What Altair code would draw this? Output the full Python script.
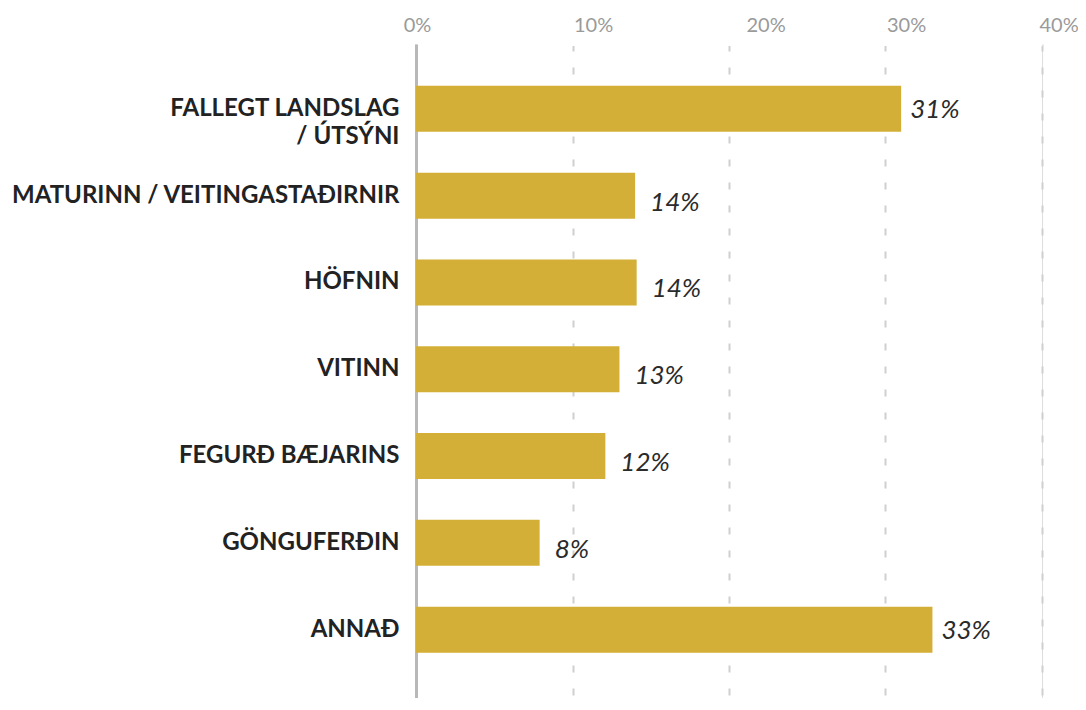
import altair as alt
import pandas as pd

categories = [
    "FALLEGT LANDSLAG\n/ ÚTSÝNI",
    "MATURINN / VEITINGASTAÐIRNIR",
    "HÖFNIN",
    "VITINN",
    "FEGURÐ BÆJARINS",
    "GÖNGUFERÐIN",
    "ANNAÐ",
]
values = [0.310, 0.140, 0.141, 0.130, 0.121, 0.079, 0.330]
tick_values = [0.0, 0.1, 0.2, 0.3, 0.4]

df = pd.DataFrame({"category": categories, "value": values})

BAR = "#D4AF37"

y_enc = alt.Y(
    "category:N",
    sort=categories,
    scale=alt.Scale(paddingInner=0.47, paddingOuter=0.5025, align=0.48),
    axis=alt.Axis(
        title=None,
        ticks=False,
        grid=False,
        domainColor="#b8b8b8",
        domainWidth=3,
        labelFont="Lato",
        labelFontWeight="bold",
        labelFontSize=24,
        labelColor="#222222",
        labelPadding=17,
        labelLimit=1000,
        labelLineHeight=28,
        labelOverlap=False,
        labelExpr="split(datum.label, '\\n')",
    ),
)

x_enc = alt.X(
    "value:Q",
    scale=alt.Scale(domain=[0, 0.4], nice=False, zero=True),
    axis=alt.Axis(
        title=None,
        orient="top",
        format=".0%",
        values=tick_values,
        ticks=False,
        domain=True,
        domainColor="white",
        domainWidth=3,
        grid=True,
        gridDash=[7, 16],
        gridColor="#cfcfcf",
        gridWidth=2,
        labelFont="Lato",
        labelFontSize=20,
        labelColor="#9a9a9a",
        labelPadding=13,
        labelBaseline="alphabetic",
        labelFlush=False,
        labelOverlap=False,
        labelAlign={"condition": {"test": "datum.value == 0", "value": "center"}, "value": "left"},
        labelOffset={
            "condition": [
                {"test": "abs(datum.value - 0.2) < 0.001", "value": 17},
                {"test": "abs(datum.value - 0.4) < 0.001", "value": -3},
            ],
            "value": 1,
        },
    ),
)

base = alt.Chart(df)

bars = base.mark_bar(color=BAR).encode(x=x_enc, y=y_enc)

label_style = dict(
    align="left",
    baseline="middle",
    font="Lato",
    fontStyle="italic",
    fontSize=26,
    color="#2b2b2b",
)

labels_long = base.transform_filter("datum.value >= 0.2").mark_text(dx=9, dy=1, **label_style).encode(
    x=x_enc,
    y=y_enc,
    text=alt.Text("value:Q", format=".0%"),
)
labels_short = base.transform_filter("datum.value < 0.2").mark_text(dx=15, dy=7, **label_style).encode(
    x=x_enc,
    y=y_enc,
    text=alt.Text("value:Q", format=".0%"),
)

chart = (
    alt.layer(bars, labels_long, labels_short)
    .properties(
        width=626,
        height=654,
        autosize=alt.AutoSizeParams(type="none"),
        padding={"left": 408, "top": 36, "right": 36, "bottom": 0},
    )
    .configure_view(strokeWidth=0, stroke="transparent")
    .configure(background="white")
)

chart.save("out.html", embed_options={"renderer": "svg", "actions": False})
